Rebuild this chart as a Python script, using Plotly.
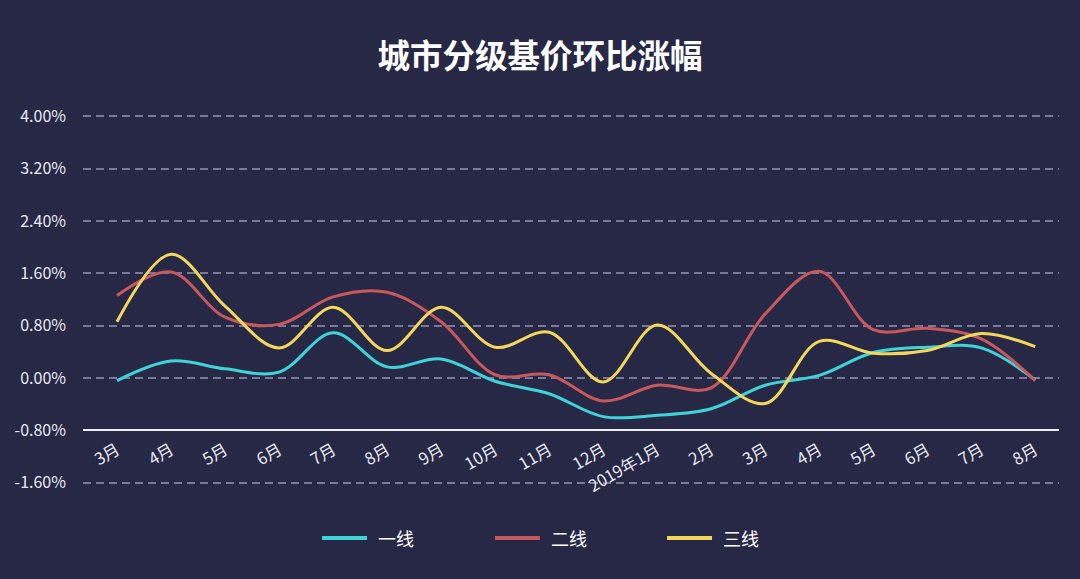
import plotly.graph_objects as go

months = ["3月", "4月", "5月", "6月", "7月", "8月", "9月", "10月", "11月", "12月",
          "2019年1月", "2月", "3月", "4月", "5月", "6月", "7月", "8月"]

# 环比涨幅 (%)
tier1 = [-0.04, 0.26, 0.14, 0.09, 0.69, 0.17, 0.29, -0.05, -0.24, -0.59,
         -0.57, -0.47, -0.11, 0.04, 0.39, 0.47, 0.46, -0.03]
tier2 = [1.26, 1.62, 0.93, 0.82, 1.24, 1.31, 0.86, 0.05, 0.05, -0.35,
         -0.11, -0.15, 0.98, 1.63, 0.74, 0.76, 0.60, -0.04]
tier3 = [0.86, 1.89, 1.10, 0.46, 1.08, 0.42, 1.08, 0.47, 0.70, -0.06,
         0.81, 0.07, -0.39, 0.56, 0.38, 0.42, 0.68, 0.48]

names = ["一线", "二线", "三线"]
colors = ["#3fd3d8", "#c7585c", "#f2d75a"]
y_ticks = [-1.6, -0.8, 0.0, 0.8, 1.6, 2.4, 3.2, 4.0]

bg = "#272846"
font_family = "Noto Sans CJK SC"

fig = go.Figure()
for name, vals, color in zip(names, [tier1, tier2, tier3], colors):
    fig.add_trace(
        go.Scatter(
            x=list(range(len(months))),
            y=vals,
            name=name,
            mode="lines",
            line=dict(color=color, width=3, shape="spline", smoothing=1.0),
            hovertemplate="%{y:.2f}%<extra>" + name + "</extra>",
        )
    )

# legend drawn by hand so the swatches match the long strokes of the original
legend_x = [0.2449, 0.4221, 0.5984]
legend_y = -0.1463
for lx, name, color in zip(legend_x, names, colors):
    fig.add_shape(
        type="line", xref="paper", yref="paper",
        x0=lx, x1=lx + 0.0461, y0=legend_y, y1=legend_y,
        line=dict(color=color, width=4),
    )
    fig.add_annotation(
        x=lx + 0.0553, y=legend_y, xref="paper", yref="paper",
        text=name, showarrow=False, xanchor="left", yanchor="middle",
        font=dict(size=18, color="#ffffff", family=font_family),
    )

fig.update_layout(
    width=1080,
    height=579,
    paper_bgcolor=bg,
    plot_bgcolor=bg,
    margin=dict(l=83, r=21, t=115, b=95),
    showlegend=False,
    font=dict(family=font_family, color="#e8e8f0"),
    title=dict(
        text="<b>城市分级基价环比涨幅</b>",
        x=0.5, xanchor="center",
        y=1 - 57 / 579, yanchor="middle",
        font=dict(size=32.5, color="#ffffff", family=font_family),
    ),
    xaxis=dict(
        range=[-0.63, 17.44],
        tickmode="array",
        tickvals=list(range(len(months))),
        ticktext=months,
        tickangle=-30,
        tickfont=dict(size=16.5, color="#e8e8f0"),
        showgrid=False,
        zeroline=False,
        showline=True,
        linecolor="#eeeef5",
        linewidth=2,
        ticks="",
        anchor="free",
        position=(-0.8 + 1.62) / 5.64,
        ticklabelstandoff=3,
    ),
    yaxis=dict(
        range=[-1.62, 4.02],
        tickmode="array",
        tickvals=y_ticks,
        ticktext=[f"{v:.2f}%" for v in y_ticks],
        tickfont=dict(size=16, color="#e8e8f0"),
        showgrid=True,
        gridcolor="rgba(150,150,180,0.75)",
        gridwidth=1.5,
        griddash="8px,5px",
        zeroline=False,
        showline=False,
        ticks="",
        ticklabelstandoff=16,
    ),
)

fig.write_html(
    "out.html",
    config={"displayModeBar": False},
    post_script="document.body.style.margin='0';document.body.style.background='" + bg + "';",
)
